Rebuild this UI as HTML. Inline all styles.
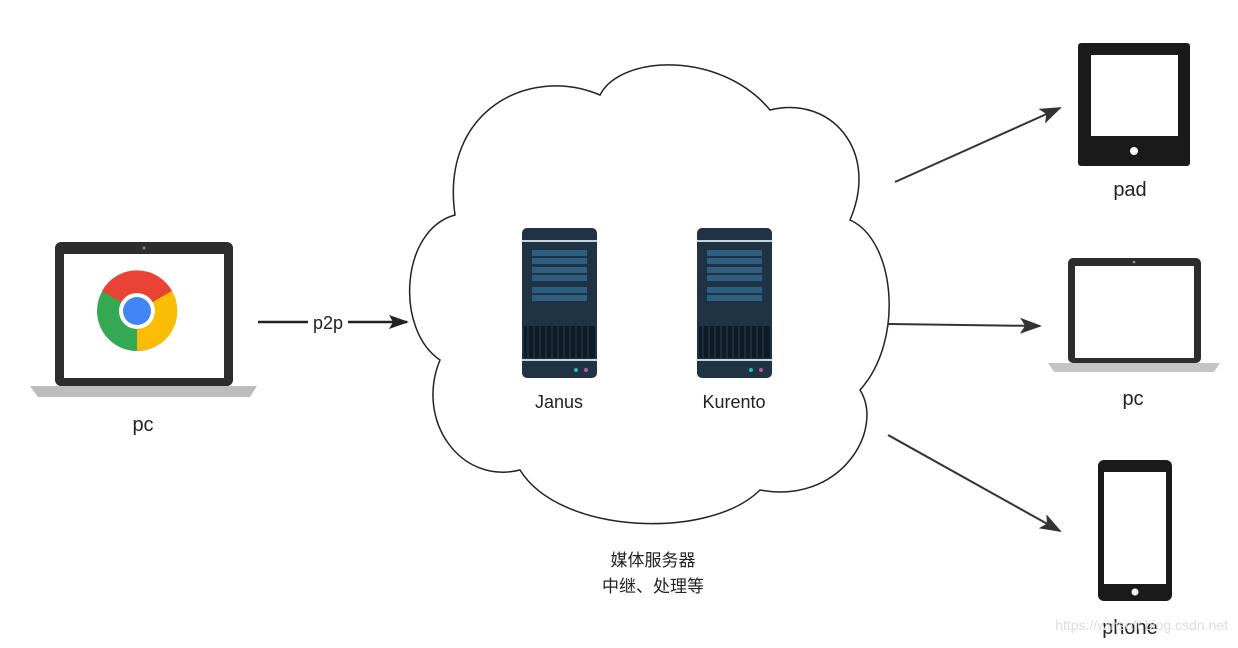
<!DOCTYPE html>
<html><head><meta charset="utf-8"><style>
body{margin:0;background:#fff;width:1238px;height:643px;overflow:hidden}
text{font-family:"Liberation Sans","Noto Sans CJK SC",sans-serif;fill:#222}
</style></head><body>
<svg width="1238" height="643" viewBox="0 0 1238 643">
<defs>
<marker id="a" markerWidth="20" markerHeight="14" refX="18" refY="7" orient="auto" markerUnits="userSpaceOnUse"><path d="M0,0 L20,7 L0,14 L4,7 z" fill="#222"/></marker>
<marker id="b" markerWidth="22" markerHeight="16" refX="20" refY="8" orient="auto" markerUnits="userSpaceOnUse"><path d="M0,0 L22,8 L0,16 L5,8 z" fill="#333"/></marker>
<g id="srv">
<rect x="0" y="0" width="75" height="150" rx="5" fill="#1f3344"/>
<rect x="0" y="12" width="75" height="2" fill="#c8d2da"/>
<rect x="10" y="22" width="55" height="6" fill="#2f5f80"/><rect x="10" y="30" width="55" height="6" fill="#2f5f80"/>
<rect x="10" y="39" width="55" height="6" fill="#2f5f80"/><rect x="10" y="47" width="55" height="6" fill="#2f5f80"/>
<rect x="10" y="59" width="55" height="6" fill="#2f5f80"/><rect x="10" y="67" width="55" height="6" fill="#2f5f80"/>
<rect x="2" y="98" width="71" height="32" fill="#0f1c27"/>
<g stroke="#2a4050" stroke-width="1"><path d="M6,98v32M12,98v32M18,98v32M24,98v32M30,98v32M36,98v32M42,98v32M48,98v32M54,98v32M60,98v32M66,98v32"/></g>
<rect x="0" y="131" width="75" height="2" fill="#c8d2da"/>
<circle cx="54" cy="142" r="2" fill="#2bb"/><circle cx="64" cy="142" r="2" fill="#b5a"/>
</g>
</defs>
<path d="M455,215 C400,230 395,330 440,360 C415,420 460,485 520,470 C560,535 710,540 760,490 C840,505 885,430 860,390 C905,340 895,240 850,220 C880,150 830,95 770,110 C720,50 620,55 600,95 C530,65 440,110 455,215 Z" fill="#fff" stroke="#222" stroke-width="1.5"/>
<use href="#srv" x="522" y="228"/><use href="#srv" x="697" y="228"/>
<text x="559" y="408" font-size="18" text-anchor="middle">Janus</text>
<text x="734" y="408" font-size="18" text-anchor="middle">Kurento</text>
<text x="653" y="566" font-size="17" text-anchor="middle">媒体服务器</text>
<text x="653" y="592" font-size="17" text-anchor="middle">中继、处理等</text>
<rect x="55" y="242" width="178" height="144" rx="6" fill="#2d2d2d"/>
<rect x="64" y="254" width="160" height="124" fill="#fff"/>
<circle cx="144" cy="248" r="1.5" fill="#888"/>
<path d="M30,386 H257 L250,397 H38 Z" fill="#bdbdbd"/>
<circle cx="137" cy="311" r="40" fill="#34a853"/>
<path d="M137,311 L102,291 A40,40 0 0 1 172,291 Z" fill="#ea4335"/>
<path d="M137,311 L172,291 A40,40 0 0 1 137,351 Z" fill="#fbbc05"/>
<circle cx="137" cy="311" r="18" fill="#fff"/><circle cx="137" cy="311" r="14" fill="#4285f4"/>
<text x="143" y="431" font-size="20" text-anchor="middle">pc</text>
<line x1="258" y1="322" x2="308" y2="322" stroke="#222" stroke-width="2.5"/>
<line x1="348" y1="322" x2="407" y2="322" stroke="#222" stroke-width="2.5" marker-end="url(#a)"/>
<text x="328" y="329" font-size="18" text-anchor="middle">p2p</text>
<line x1="895" y1="182" x2="1060" y2="108" stroke="#333" stroke-width="2" marker-end="url(#b)"/>
<line x1="888" y1="324" x2="1040" y2="326" stroke="#333" stroke-width="2" marker-end="url(#b)"/>
<line x1="888" y1="435" x2="1060" y2="531" stroke="#333" stroke-width="2" marker-end="url(#b)"/>
<rect x="1078" y="43" width="112" height="123" rx="3" fill="#1a1a1a"/>
<rect x="1091" y="55" width="87" height="81" fill="#fff"/>
<circle cx="1134" cy="151" r="4" fill="#fff"/>
<text x="1130" y="196" font-size="20" text-anchor="middle">pad</text>
<rect x="1068" y="258" width="133" height="105" rx="5" fill="#2d2d2d"/>
<rect x="1075" y="266" width="119" height="92" fill="#fff"/>
<circle cx="1134" cy="262" r="1.3" fill="#999"/>
<path d="M1048,363 H1220 L1214,372 H1054 Z" fill="#c4c4c4"/>
<text x="1133" y="405" font-size="20" text-anchor="middle">pc</text>
<rect x="1098" y="460" width="74" height="141" rx="6" fill="#1a1a1a"/>
<rect x="1104" y="472" width="62" height="112" fill="#fff"/>
<circle cx="1135" cy="592" r="3.5" fill="#fff"/>
<text x="1130" y="634" font-size="20" text-anchor="middle">phone</text>
<text x="1228" y="630" font-size="14" text-anchor="end" style="fill:#ddd">https://winsoft.blog.csdn.net</text>
</svg>
</body></html>
